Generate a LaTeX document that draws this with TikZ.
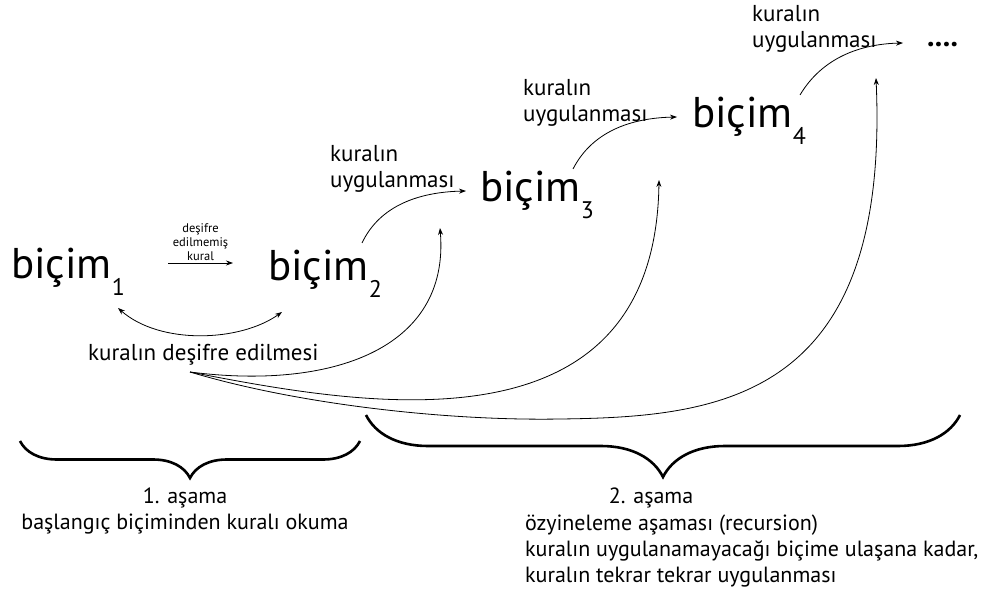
\documentclass[tikz,border=0pt]{standalone}
\usepackage{fontspec}
\setmainfont{PT Sans}
\usepackage{tikz}
\usetikzlibrary{arrows.meta, positioning, decorations.pathreplacing}

% form name with a lowered index
\newcommand{\formname}[1]{biçim\raisebox{-17pt}{\fontsize{24}{24}\selectfont #1}}

\begin{document}
\begin{tikzpicture}[
    x=1pt, y=-1pt,
    form/.style={anchor=base west, inner sep=0pt, font=\fontsize{43}{43}\selectfont},
    label/.style={anchor=base west, inner sep=0pt, align=left, font=\fontsize{23}{26}\selectfont},
    note/.style={align=center, inner sep=2pt, font=\fontsize{12.5}{14}\selectfont},
    stage/.style={inner sep=0pt, font=\fontsize{22}{26}\selectfont},
    arrow/.style={-{Stealth[length=7pt, width=5pt]}, line width=0.8pt},
    twoway/.style={{Stealth[length=7pt, width=5pt]}-{Stealth[length=7pt, width=5pt]}, line width=0.8pt},
    bracket/.style={decorate, line width=2.6pt, decoration={brace, mirror, amplitude=#1}}
]
    \useasboundingbox (0,0) rectangle (993,596);

    % Row 1: forms
    \node[form] (b1) at (11, 278) {\formname{1}};
    \node[form] (b2) at (268, 280) {\formname{2}};
    \node[form] (b3) at (480, 202) {\formname{3}};
    \node[form] (b4) at (692, 128) {\formname{4}};
    \node[anchor=base west, inner sep=0pt, font=\fontsize{30}{30}\selectfont\bfseries] (dots) at (927, 47) {....};

    % Row 2: labels (base is the second line)
    \node[label] (apply2) at (330, 188) {kuralın\\uygulanması};
    \node[label] (apply3) at (523, 122) {kuralın\\uygulanması};
    \node[label] (apply4) at (752, 48) {kuralın\\uygulanması};
    \node[label] (decode) at (88, 360) {kuralın deşifre edilmesi};

    % Anchor points of the curves
    \coordinate (fork) at (190, 372);
    \coordinate (b1end) at (118, 308);
    \coordinate (b2end) at (282, 312);
    \coordinate (b2top) at (362, 243);
    \coordinate (b3top) at (573, 169);
    \coordinate (b4top) at (800, 95);
    \coordinate (in3) at (466, 191);
    \coordinate (in4) at (677, 117);
    \coordinate (indots) at (903, 43);
    \coordinate (up3) at (440, 228);
    \coordinate (up4) at (659, 180);
    \coordinate (low) at (560, 419);
    \coordinate (updots) at (876, 78);
    \coordinate (rulestart) at (168, 263);
    \coordinate (ruleend) at (233, 263);

    % Arrows
    \draw[arrow] (rulestart) -- node[note, above] {deşifre\\edilmemiş\\kural} (ruleend);
    \draw[twoway] (b1end) .. controls (160, 345) and (240, 342) .. (b2end);
    \draw[arrow] (b2top) .. controls (380, 205) and (420, 192) .. (in3);
    \draw[arrow] (b3top) .. controls (592, 132) and (630, 118) .. (in4);
    \draw[arrow] (b4top) .. controls (822, 58) and (860, 44) .. (indots);
    \draw[arrow] (fork) .. controls (330, 390) and (450, 350) .. (up3);
    \draw[arrow] (fork) .. controls (360, 405) and (655, 460) .. (up4);
    \draw[arrow] (fork) .. controls (300, 405) and (450, 421) .. (low)
                        .. controls (720, 417) and (890, 400) .. (updots);

    % Braces
    \coordinate (s1a) at (20, 441);
    \coordinate (s1b) at (360, 441);
    \coordinate (s2a) at (366, 415);
    \coordinate (s2b) at (960, 415);
    \draw[bracket=37pt] (s1a) -- (s1b);
    \draw[bracket=62pt] (s2a) -- (s2b);

    % Row 3: stages (base is the last line)
    \node[stage, anchor=base, align=center] (stage1) at (185, 529) {1. aşama\\başlangıç biçiminden kuralı okuma};
    \node[stage, anchor=base] (stage2) at (651, 503) {2. aşama};
    \node[stage, anchor=base west, align=left] (stage2b) at (525, 582) {özyineleme aşaması (recursion)\\kuralın uygulanamayacağı biçime ulaşana kadar,\\kuralın tekrar tekrar uygulanması};
\end{tikzpicture}
\end{document}
